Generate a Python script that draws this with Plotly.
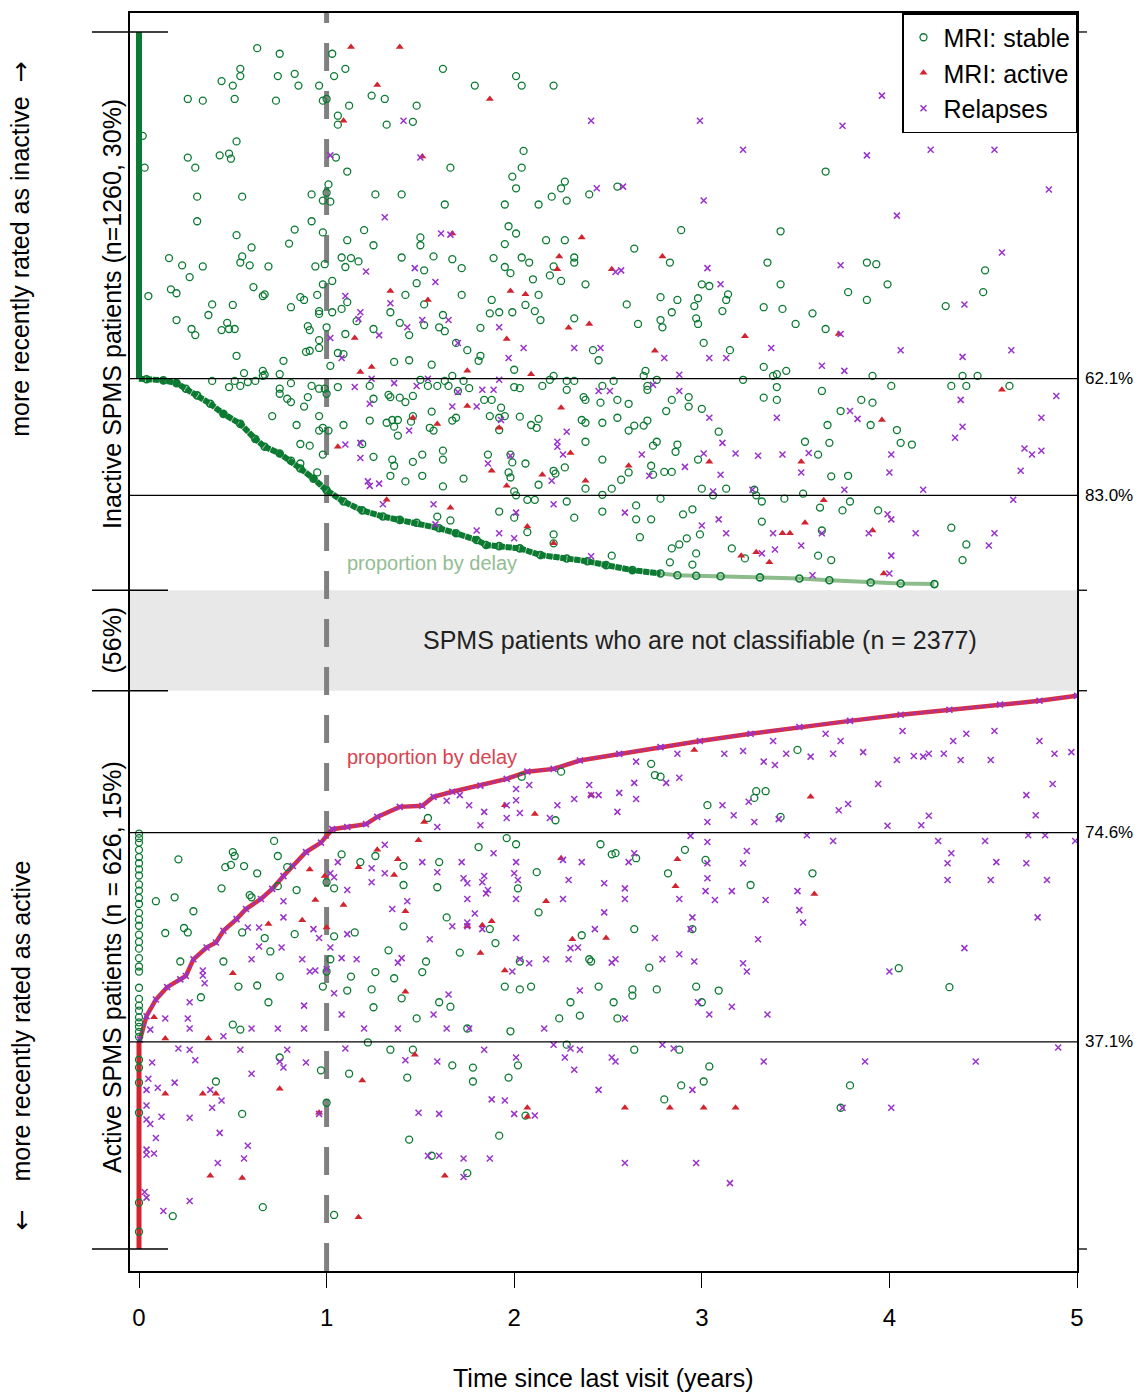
import plotly.graph_objects as go

# ------------------------------------------------------------------ data
# Each patient: (years since last visit, rank percentile within group)
# Inactive group: rank counted from the top of its block; active group: from the bottom.

inactive_curve = [
    (0, 0), (0, 62.1), (0.04, 62.2), (0.13, 62.4), (0.20, 62.9), (0.25, 63.9), (0.31, 65.1),
    (0.38, 66.6), (0.45, 68.4), (0.54, 70.2), (0.62, 72.9), (0.67, 74.3), (0.75, 75.5),
    (0.81, 76.8), (0.86, 78.2), (0.93, 80.0), (1.00, 82.1), (1.09, 84.1), (1.19, 85.7),
    (1.30, 86.8), (1.39, 87.4), (1.48, 87.9), (1.60, 88.9), (1.69, 89.8), (1.80, 91.0),
    (1.85, 91.9), (1.92, 92.1), (2.03, 92.5), (2.14, 93.7), (2.28, 94.3), (2.39, 94.8),
    (2.49, 95.5), (2.63, 96.4), (2.78, 97.0), (2.87, 97.3), (2.97, 97.4), (3.10, 97.5),
    (3.31, 97.7), (3.52, 97.9), (3.68, 98.2), (3.90, 98.6), (4.06, 98.8), (4.24, 98.9),
]

inactive_stable = [
    (0.63, 2.9), (0.75, 3.9), (0.54, 6.6), (0.54, 7.9), (0.44, 8.8), (0.50, 9.6), (0.74, 7.9),
    (0.83, 7.5), (0.85, 9.6), (0.96, 9.6), (1.03, 3.9), (1.04, 7.9), (1.10, 6.6), (0.26, 12.0),
    (0.34, 12.3), (0.51, 12.0), (0.73, 12.3), (0.98, 12.3), (1.00, 12.0), (1.12, 13.2),
    (1.06, 15.0), (1.06, 16.6), (1.24, 11.4), (0.02, 18.6), (0.03, 24.3), (0.52, 19.6),
    (0.43, 22.1), (0.48, 21.8), (0.49, 22.7), (0.26, 22.5), (0.30, 24.3), (1.05, 22.5),
    (1.11, 25.0), (0.31, 29.5), (0.55, 29.5), (0.92, 29.1), (0.98, 30.2), (1.02, 30.4),
    (1.01, 27.3), (1.00, 28.8), (1.26, 29.1), (0.31, 33.9), (0.92, 33.9), (0.52, 36.4),
    (0.83, 35.4), (0.80, 37.9), (0.60, 38.6), (0.55, 40.2), (0.54, 41.3), (0.59, 41.8),
    (0.98, 35.9), (1.11, 37.3), (1.20, 35.5), (1.25, 38.2), (0.16, 40.5), (0.23, 41.8),
    (0.34, 42.0), (0.69, 42.0), (0.94, 42.0), (0.99, 41.6), (1.08, 40.4), (1.13, 40.5),
    (1.17, 41.1), (1.10, 42.1), (0.27, 43.9), (0.05, 47.3), (0.17, 46.1), (0.20, 46.8),
    (0.61, 45.7), (0.66, 47.3), (0.67, 47.0), (0.39, 48.8), (0.50, 48.9), (0.37, 50.7),
    (0.20, 51.6), (0.28, 53.2), (0.30, 54.3), (0.44, 53.4), (0.47, 52.1), (0.48, 53.2),
    (0.51, 53.2), (0.81, 49.3), (0.86, 47.5), (0.88, 48.0), (0.95, 47.1), (0.98, 45.2),
    (1.03, 44.6), (0.96, 50.0), (0.96, 50.5), (1.03, 50.2), (1.08, 49.6), (1.11, 48.4),
    (0.90, 52.7), (0.91, 53.4), (1.00, 52.9), (1.10, 54.1), (1.16, 51.8), (1.25, 53.2),
    (0.52, 58.0), (0.89, 57.3), (0.91, 57.1), (0.96, 55.2), (0.96, 56.6), (0.77, 58.9),
    (1.02, 59.8), (1.06, 57.5), (1.09, 57.7), (0.56, 61.1), (0.66, 60.7), (0.66, 61.6),
    (0.67, 61.4), (0.75, 61.3), (0.39, 62.5), (0.48, 63.6), (0.51, 62.5), (0.54, 63.4),
    (0.58, 62.7), (0.62, 62.5), (0.81, 62.9), (0.75, 63.9), (0.75, 64.8), (0.79, 65.7),
    (0.81, 66.3), (0.88, 67.1), (0.90, 65.4), (0.92, 63.4), (0.96, 63.9), (1.00, 64.8),
    (0.99, 63.9), (1.06, 63.6), (1.25, 65.7), (1.23, 63.4), (0.71, 68.8), (0.96, 68.8),
    (0.84, 70.4), (0.91, 74.1), (0.98, 75.7), (0.86, 77.3), (0.95, 78.9), (0.86, 73.8),
    (1.62, 6.6), (2.01, 7.9), (2.04, 9.6), (2.21, 9.6), (1.79, 9.6), (1.31, 12.0), (1.48, 13.2),
    (1.32, 16.6), (1.46, 16.1), (2.05, 21.3), (1.66, 24.3), (2.04, 24.3), (1.99, 25.9),
    (2.01, 28.0), (2.27, 26.8), (2.25, 28.0), (2.20, 29.5), (2.28, 30.2), (2.40, 29.1),
    (2.55, 27.7), (1.95, 30.9), (2.13, 30.9), (1.63, 30.9), (1.40, 29.1), (1.50, 36.8),
    (1.50, 38.2), (1.97, 34.8), (2.01, 36.1), (1.95, 38.0), (2.17, 37.3), (2.27, 37.3),
    (2.89, 35.5), (2.64, 38.8), (1.40, 40.4), (1.57, 40.2), (1.67, 40.7), (1.72, 42.3),
    (1.52, 42.7), (1.48, 45.0), (1.89, 40.5), (1.95, 42.1), (1.98, 43.2), (2.04, 40.4),
    (2.08, 41.3), (2.21, 42.0), (2.19, 43.6), (2.25, 44.6), (2.32, 40.4), (2.32, 41.3),
    (2.38, 45.2), (2.83, 41.3), (2.10, 44.3), (1.72, 47.1), (1.42, 47.1), (1.52, 48.8),
    (1.34, 50.2), (1.62, 50.7), (1.88, 48.0), (1.92, 50.2), (1.87, 50.4), (1.99, 50.2),
    (2.06, 48.9), (2.13, 47.1), (2.11, 50.0), (2.14, 51.6), (2.32, 51.3), (2.60, 48.8),
    (2.78, 47.5), (2.78, 51.6), (2.87, 48.0), (2.84, 50.2), (2.96, 49.1), (2.98, 47.7),
    (2.97, 51.3), (2.66, 52.3), (2.79, 52.9), (1.39, 52.1), (1.52, 52.5), (1.44, 54.3),
    (1.60, 52.9), (1.63, 53.6), (1.82, 53.0), (1.36, 59.1), (1.44, 58.8), (1.56, 59.6),
    (1.69, 55.7), (1.75, 57.0), (1.82, 58.0), (1.81, 58.9), (2.00, 60.5), (2.42, 57.0),
    (2.45, 58.8), (2.70, 60.7), (2.69, 61.6), (1.33, 65.0), (1.34, 65.4), (1.39, 65.5),
    (1.42, 66.3), (1.46, 65.2), (1.50, 62.3), (1.54, 63.4), (1.59, 63.4), (1.63, 62.5),
    (1.65, 63.4), (1.67, 61.6), (1.70, 64.3), (1.73, 62.5), (1.76, 63.8), (1.84, 65.9),
    (1.88, 65.9), (1.93, 67.3), (2.00, 63.6), (2.03, 63.8), (2.15, 63.4), (2.19, 62.3),
    (2.21, 61.6), (2.28, 62.5), (2.28, 64.1), (2.32, 62.5), (2.37, 65.4), (2.38, 65.9),
    (2.46, 66.4), (2.47, 63.4), (2.53, 62.5), (2.55, 65.9), (2.61, 66.6), (2.71, 63.4),
    (2.71, 64.1), (2.76, 62.3), (2.84, 65.9), (2.93, 65.4), (2.93, 67.1), (2.81, 67.9),
    (0.96, 71.4), (0.98, 70.9), (1.01, 71.4), (1.09, 70.4), (1.23, 69.6), (1.32, 70.0),
    (1.35, 69.5), (1.38, 69.5), (1.36, 70.7), (1.38, 72.3), (1.46, 68.8), (1.45, 69.8),
    (1.56, 68.0), (1.55, 70.9), (1.57, 71.4), (1.67, 69.6), (1.69, 69.1), (1.87, 68.8),
    (1.92, 69.1), (1.95, 68.8), (1.92, 71.3), (2.03, 68.9), (2.09, 70.4), (2.12, 70.9),
    (2.13, 69.3), (2.36, 69.5), (2.38, 70.0), (2.47, 70.0), (2.55, 69.1), (2.61, 71.4),
    (2.64, 70.5), (2.69, 70.5), (2.71, 69.6), (2.74, 74.1), (2.76, 73.4), (2.87, 73.9),
    (2.86, 75.2), (2.98, 76.6), (2.38, 73.4), (1.19, 73.8), (1.25, 76.1), (1.35, 76.6),
    (1.36, 77.7), (1.34, 79.5), (1.46, 77.0), (1.51, 75.7), (1.51, 79.5), (1.62, 75.0),
    (1.62, 76.6), (1.42, 80.5), (1.62, 81.4), (1.73, 80.0), (1.86, 75.7), (1.98, 75.7),
    (1.99, 77.1), (2.06, 77.3), (1.97, 78.9), (1.98, 79.8), (2.00, 82.3), (2.01, 83.0),
    (2.07, 83.8), (2.11, 83.8), (2.13, 81.1), (2.21, 78.6), (2.22, 79.1), (2.27, 78.0),
    (2.28, 84.1), (2.38, 81.8), (2.47, 76.6), (2.47, 82.9), (2.52, 81.8), (2.61, 78.9),
    (2.57, 80.2), (2.73, 77.7), (2.74, 79.3), (2.80, 78.8), (2.84, 78.8), (2.78, 83.6),
    (2.65, 84.8), (2.65, 87.3), (2.73, 87.3), (2.47, 85.9), (2.32, 87.0), (2.21, 90.0),
    (2.21, 91.6), (2.07, 89.6), (1.92, 85.9), (2.00, 87.0), (1.66, 87.5), (1.59, 86.8),
    (2.67, 90.5), (2.83, 95.0), (2.84, 92.5), (2.88, 91.8), (2.92, 90.7), (2.97, 93.4),
    (2.90, 86.4), (2.95, 85.5), (2.52, 93.8),
    (3.66, 25.0), (3.42, 35.7), (3.35, 41.3), (3.88, 41.3), (3.93, 41.6), (4.51, 42.7),
    (3.00, 45.2), (3.04, 45.5), (3.42, 45.2), (3.99, 45.2), (3.78, 46.6), (3.88, 48.0),
    (4.50, 46.6), (4.30, 49.1), (3.14, 47.0), (3.13, 48.0), (3.11, 50.0), (3.33, 49.3),
    (3.43, 49.6), (3.59, 50.4), (2.98, 52.3), (3.50, 52.3), (3.66, 53.2), (3.01, 55.7),
    (3.15, 57.0), (3.33, 60.0), (3.45, 60.7), (3.38, 61.6), (3.40, 61.3), (3.22, 62.3),
    (3.91, 61.6), (4.39, 61.6), (4.47, 61.6), (3.40, 63.6), (4.01, 63.4), (4.33, 63.4),
    (4.41, 63.4), (4.64, 63.4), (3.64, 64.3), (3.00, 67.5), (3.33, 65.5), (3.40, 65.9),
    (3.85, 65.9), (3.91, 66.4), (3.74, 67.9), (3.67, 70.4), (3.90, 70.4), (4.04, 71.3),
    (3.09, 71.6), (3.55, 73.4), (3.68, 73.6), (4.06, 73.6), (4.12, 73.9), (3.62, 75.7),
    (3.69, 79.6), (3.78, 79.5), (3.00, 81.8), (3.13, 81.8), (3.06, 83.0), (3.28, 82.0),
    (3.29, 83.0), (3.32, 84.1), (3.44, 83.6), (3.54, 82.7), (3.32, 87.7), (3.63, 85.2),
    (3.75, 85.7), (3.79, 84.1), (3.94, 85.7), (2.99, 90.0), (3.64, 89.3), (3.16, 92.5),
    (3.23, 94.3), (3.62, 93.8), (3.69, 94.6), (2.95, 95.4), (4.33, 88.8), (4.41, 91.8),
    (4.39, 94.6),
]

inactive_mri_active = [
    (1.13, 2.7), (1.27, 9.5), (1.09, 15.9), (1.15, 54.8), (1.18, 60.9), (1.24, 60.0),
    (1.39, 2.7), (1.87, 12.0), (1.51, 22.3), (1.67, 36.1), (2.36, 36.8), (2.24, 40.2),
    (2.23, 42.5), (2.79, 40.2), (2.52, 42.5), (1.34, 46.4), (1.54, 48.0), (1.98, 46.4),
    (2.06, 47.0), (2.40, 52.3), (2.29, 53.0), (1.75, 60.7), (1.96, 55.0), (2.09, 61.3),
    (2.75, 57.1), (1.75, 67.0), (1.46, 69.1), (1.59, 70.2), (1.92, 70.9), (2.25, 67.3),
    (2.30, 75.4), (1.06, 74.3), (1.88, 78.6), (2.15, 79.3), (1.96, 81.3), (2.38, 80.4),
    (2.61, 77.7), (1.32, 83.8), (1.66, 85.2), (2.07, 88.6), (2.21, 91.6), (3.23, 54.5),
    (3.73, 54.1), (4.60, 64.1), (3.96, 69.5), (3.04, 77.0), (3.53, 77.0), (3.65, 83.9),
    (3.55, 87.9), (3.43, 89.8), (3.47, 89.8), (3.91, 89.3), (3.21, 93.8), (3.29, 93.2),
    (3.36, 95.0), (3.97, 97.0),
]

inactive_relapse = [
    (1.02, 22.1), (1.21, 42.9), (1.10, 47.3), (1.18, 50.2), (1.17, 51.4), (1.02, 54.8),
    (1.08, 58.4), (1.15, 63.6), (1.24, 62.1), (1.23, 66.6), (1.28, 54.3), (1.41, 15.9),
    (2.41, 15.9), (2.99, 15.9), (1.50, 22.5), (2.44, 28.0), (2.58, 27.7), (1.31, 33.2),
    (1.61, 36.1), (1.66, 36.3), (1.47, 42.3), (1.58, 44.8), (2.54, 43.0), (2.57, 42.7),
    (1.51, 51.6), (1.65, 51.6), (1.92, 52.9), (1.43, 52.9), (1.34, 48.6), (1.36, 62.9),
    (1.48, 63.4), (1.54, 62.1), (1.70, 55.7), (1.97, 58.4), (2.05, 56.6), (2.32, 56.6),
    (2.46, 56.6), (2.80, 58.4), (2.88, 61.4), (2.88, 64.3), (1.83, 64.1), (1.89, 64.1),
    (1.92, 62.3), (1.70, 64.5), (1.67, 67.1), (1.80, 67.1), (2.45, 64.3), (2.51, 64.3),
    (2.74, 63.2), (1.44, 71.4), (1.10, 73.9), (1.18, 73.6), (1.18, 76.3), (1.93, 69.5),
    (2.28, 71.6), (2.23, 73.4), (2.23, 74.3), (2.26, 75.7), (1.98, 75.9), (1.86, 77.3),
    (2.68, 75.7), (2.91, 77.9), (2.72, 79.5), (2.20, 80.4), (1.22, 80.5), (1.23, 81.3),
    (1.28, 80.9), (1.30, 84.6), (1.57, 84.6), (1.58, 88.2), (1.80, 89.3), (1.92, 89.8),
    (2.00, 90.7), (2.01, 86.1), (2.21, 84.6), (2.59, 86.1), (2.41, 93.9),
    (3.22, 21.1), (3.88, 22.1), (4.22, 21.1), (4.56, 21.1), (4.85, 28.2), (3.01, 30.2),
    (4.04, 32.9), (4.60, 39.5), (3.03, 42.3), (3.74, 41.8), (3.10, 45.2), (4.40, 48.8),
    (3.74, 54.1), (3.37, 56.6), (4.06, 57.0), (4.65, 57.0), (3.04, 58.4), (3.13, 58.4),
    (4.39, 58.2), (3.64, 59.8), (3.76, 60.7), (4.89, 65.2), (4.38, 65.9), (3.04, 69.1),
    (3.40, 69.1), (3.79, 67.9), (3.83, 69.3), (4.81, 69.1), (4.39, 70.7), (4.35, 72.7),
    (3.11, 73.6), (3.01, 75.5), (3.18, 75.5), (3.30, 75.9), (3.43, 75.7), (3.57, 75.4),
    (4.01, 75.7), (4.72, 74.6), (4.76, 75.7), (4.81, 75.0), (3.10, 79.3), (3.53, 78.9),
    (4.00, 78.9), (4.70, 78.6), (3.06, 82.3), (3.27, 82.0), (3.76, 82.0), (4.18, 82.0),
    (4.66, 83.8), (3.09, 87.3), (3.00, 88.4), (3.99, 86.4), (4.01, 87.3), (3.13, 89.8),
    (3.38, 89.8), (3.64, 89.8), (3.89, 89.8), (4.14, 89.8), (4.56, 89.8), (4.53, 92.0),
    (3.53, 92.0), (3.32, 93.4), (3.39, 92.7), (4.01, 93.8), (3.59, 97.3), (4.00, 97.0),
    (3.75, 16.8), (3.96, 11.4),
]

active_curve = [
    (0, 0), (0, 37.1), (0.005, 37.5), (0.04, 41.7), (0.09, 44.7), (0.15, 46.9), (0.22, 48.3),
    (0.25, 48.9), (0.29, 51.9), (0.36, 54.0), (0.41, 54.9), (0.45, 57.0), (0.52, 59.1),
    (0.57, 60.9), (0.65, 62.7), (0.71, 64.5), (0.77, 66.8), (0.82, 68.6), (0.89, 71.1),
    (0.97, 72.8), (1.03, 75.2), (1.11, 75.6), (1.21, 76.1), (1.27, 77.4), (1.39, 79.2),
    (1.51, 79.4), (1.57, 81.0), (1.67, 81.9), (1.82, 83.0), (1.96, 84.2), (2.07, 85.5),
    (2.21, 86.0), (2.35, 87.5), (2.56, 88.7), (2.78, 89.9), (2.99, 91.0), (3.26, 92.3),
    (3.52, 93.5), (3.79, 94.6), (4.06, 95.7), (4.32, 96.6), (4.59, 97.5), (4.80, 98.2),
    (5.00, 99.1),
]

active_stable = [
    (0, 74.4), (0, 73.6), (0, 72.8), (0, 71.5), (0, 70.2), (0, 69.1), (0, 68.0), (0, 66.9),
    (0, 65.3), (0, 64.2), (0, 62.9), (0, 61.8), (0, 60.2), (0, 59.0), (0, 57.9), (0, 56.3),
    (0, 55.0), (0, 53.8), (0, 52.1), (0, 50.6), (0, 49.7), (0, 46.8), (0, 44.8), (0, 43.6),
    (0, 42.7), (0, 41.5), (0, 40.6), (0, 39.8), (0, 38.9), (0, 38.0), (0, 33.9), (0, 32.5),
    (0, 29.8), (0, 24.4), (0, 8.3), (0, 3.1),
    (0.72, 73.1), (0.21, 69.8), (0.50, 71.1), (0.51, 70.4), (0.46, 68.4), (0.49, 68.8),
    (0.56, 68.6), (0.63, 67.3), (0.74, 70.4), (0.44, 64.6), (0.09, 62.3), (0.19, 63.0),
    (0.29, 60.5), (0.59, 63.4), (0.60, 63.0), (0.84, 64.3), (0.79, 68.4), (0.74, 65.0),
    (0.14, 56.6), (0.24, 57.5), (0.26, 56.7), (0.55, 56.7), (0.83, 56.4), (0.22, 51.5),
    (0.45, 51.5), (0.70, 53.3), (0.67, 55.7), (0.75, 48.8), (0.53, 47.0), (0.63, 47.2),
    (0.33, 45.1), (0.69, 44.2), (0.50, 40.2), (0.54, 39.3), (1.08, 70.7), (1.26, 70.4),
    (1.18, 69.3), (1.41, 68.6), (1.41, 65.2), (1.04, 64.6), (1.00, 65.7), (1.41, 57.8),
    (1.04, 56.0), (1.15, 56.7), (1.02, 51.9), (1.00, 49.7), (1.13, 48.8), (0.98, 47.0),
    (1.11, 46.3), (1.24, 46.5), (1.33, 53.5), (1.36, 48.5), (1.40, 44.9), (1.53, 51.5),
    (1.48, 41.3), (1.26, 49.6), (1.25, 43.3), (1.51, 49.6), (1.22, 37.0), (1.34, 35.7),
    (1.46, 35.7), (0.75, 34.3), (0.97, 32.0), (0.41, 30.0), (1.12, 31.4), (1.43, 30.7),
    (1.00, 26.2), (0.55, 24.2), (1.44, 19.6), (0.66, 7.5), (1.04, 6.1), (0.18, 5.9),
    (3.51, 89.4), (2.73, 86.9), (2.75, 84.9), (2.78, 84.6), (2.25, 85.5), (2.04, 84.6),
    (3.29, 82.0), (3.34, 82.0), (3.28, 80.8), (3.03, 79.5), (3.42, 77.4), (2.22, 76.8),
    (1.54, 77.2), (1.96, 73.6), (2.01, 72.5), (1.81, 72.0), (2.46, 72.5), (2.54, 70.9),
    (2.52, 70.7), (2.65, 70.0), (2.91, 71.5), (3.02, 69.7), (1.60, 69.3), (2.12, 67.5),
    (2.82, 67.3), (3.59, 67.3), (3.26, 65.2), (1.59, 64.8), (2.02, 64.6), (2.13, 60.3),
    (1.64, 59.4), (1.87, 57.3), (2.64, 57.3), (2.95, 57.3), (2.36, 56.2), (1.90, 54.8),
    (1.71, 53.1), (2.03, 51.5), (2.40, 51.9), (2.41, 51.5), (2.72, 50.4), (4.05, 50.3),
    (4.32, 46.9), (1.95, 47.0), (2.03, 46.5), (2.09, 47.0), (2.45, 47.0), (2.63, 46.5),
    (2.63, 45.4), (2.76, 46.5), (2.97, 47.0), (3.09, 46.3), (1.60, 44.2), (1.66, 43.4),
    (2.30, 44.2), (2.53, 44.2), (3.00, 44.2), (2.24, 41.3), (2.35, 41.8), (2.55, 41.3),
    (1.75, 39.5), (1.98, 39.0), (2.28, 36.6), (2.64, 35.7), (2.88, 35.7), (1.67, 32.9),
    (1.78, 32.5), (2.02, 32.9), (1.97, 30.7), (1.78, 30.0), (3.04, 32.7), (3.01, 30.0),
    (2.89, 29.3), (3.79, 29.3), (2.80, 26.8), (3.74, 25.3), (2.06, 23.9), (1.92, 20.3),
    (1.56, 16.7), (1.75, 13.6),
]

active_mri_active = [
    (1.49, 73.2), (1.27, 71.5), (1.38, 69.8), (1.36, 67.0), (1.17, 68.4), (0.91, 68.0),
    (0.99, 66.8), (0.94, 62.5), (1.09, 61.6), (1.42, 60.5), (0.87, 58.9), (0.69, 58.2),
    (1.00, 57.6), (0.50, 49.4), (1.42, 46.1), (0.08, 41.5), (0.14, 37.7), (0.37, 37.7),
    (1.47, 34.8), (1.19, 30.2), (0.14, 27.8), (0.34, 27.8), (0.41, 27.8), (0.75, 28.7),
    (0.96, 24.4), (0.38, 13.1), (0.55, 12.7), (1.17, 5.7),
    (2.96, 89.4), (1.95, 79.5), (2.11, 77.9), (2.41, 81.3), (3.58, 81.0), (1.52, 76.5),
    (2.25, 70.0), (2.87, 69.8), (2.86, 65.0), (3.60, 63.6), (2.17, 62.3), (1.75, 57.8),
    (1.83, 58.0), (1.88, 58.7), (2.31, 55.5), (2.49, 55.7), (1.82, 53.0), (1.95, 49.9),
    (2.07, 25.3), (2.59, 25.3), (2.83, 25.3), (3.01, 25.3), (3.18, 25.3), (2.07, 23.7),
    (1.63, 13.1),
]

active_relapse = [
    (1.31, 72.4), (1.06, 69.3), (1.02, 67.3), (1.04, 66.6), (1.24, 68.2), (1.24, 65.7),
    (1.31, 67.3), (1.51, 69.3), (1.11, 64.3), (0.77, 62.3), (0.77, 59.4), (0.58, 57.6),
    (0.64, 57.6), (0.93, 57.3), (0.96, 55.7), (1.11, 56.4), (0.64, 54.2), (0.76, 54.0),
    (1.02, 54.0), (0.60, 51.9), (0.87, 51.9), (0.91, 49.7), (0.94, 49.9), (1.00, 50.1),
    (1.08, 52.1), (1.16, 51.9), (1.38, 51.3), (1.40, 52.1), (1.35, 60.9), (1.43, 62.3),
    (0.34, 49.9), (0.34, 49.0), (0.35, 47.6), (0.27, 44.2), (1.04, 45.8), (0.88, 43.6),
    (1.08, 42.0), (0.14, 41.3), (0.26, 41.3), (0.06, 39.3), (0.27, 39.5), (0.45, 38.1),
    (0.60, 39.5), (0.74, 39.5), (0.88, 39.5), (1.20, 39.5), (1.38, 39.5), (0.21, 35.9),
    (0.27, 35.7), (0.54, 35.7), (0.79, 35.7), (1.10, 35.9), (0.07, 33.4), (0.30, 33.8),
    (0.60, 31.4), (0.75, 33.6), (0.77, 32.5), (0.89, 33.4), (1.42, 33.8), (0.05, 30.5),
    (0.10, 28.9), (0.19, 29.8), (0.04, 28.5), (0.38, 28.5), (0.44, 26.6), (0.04, 25.7),
    (0.39, 25.3), (0.12, 23.7), (0.27, 23.5), (0.04, 23.2), (0.06, 22.4), (0.09, 19.9),
    (0.43, 20.8), (0.58, 18.5), (0.56, 16.2), (0.04, 17.8), (0.04, 16.9), (0.08, 17.1),
    (0.42, 15.4), (1.49, 24.4), (1.54, 16.7), (0.04, 9.2), (0.03, 10.2), (0.13, 6.8),
    (0.27, 8.6), (0.96, 24.2),
    (3.66, 92.3), (3.74, 91.0), (4.07, 92.8), (4.34, 91.0), (4.41, 92.3), (4.56, 92.8),
    (4.80, 91.0), (3.38, 91.0), (2.87, 88.7), (3.12, 88.7), (3.22, 89.2), (3.45, 88.7),
    (3.58, 88.2), (3.70, 88.7), (3.86, 89.0), (4.04, 87.6), (4.13, 88.3), (4.18, 88.2),
    (4.21, 88.7), (4.29, 88.7), (4.38, 87.6), (4.54, 87.6), (4.88, 88.7), (4.97, 89.0),
    (3.33, 87.3), (3.39, 86.7), (2.65, 87.3), (2.88, 84.4), (2.81, 83.5), (2.64, 83.5),
    (2.40, 83.1), (2.08, 83.1), (2.01, 82.4), (2.56, 81.7), (2.45, 81.3), (2.41, 81.3),
    (2.32, 80.6), (2.65, 80.6), (2.01, 80.4), (1.96, 79.5), (1.76, 79.5), (1.64, 80.3),
    (1.71, 81.3), (2.23, 79.5), (1.84, 78.3), (2.03, 78.1), (1.96, 77.2), (2.19, 77.2),
    (2.55, 78.3), (1.82, 75.9), (1.59, 75.6), (3.11, 79.5), (3.25, 80.1), (3.17, 77.7),
    (3.03, 76.5), (3.28, 76.5), (3.41, 77.0), (3.73, 78.6), (3.78, 79.7), (3.94, 83.3),
    (3.99, 75.8), (4.17, 75.9), (4.21, 77.6), (4.73, 81.3), (4.87, 83.3), (4.78, 77.7),
    (2.94, 74.0), (3.56, 74.1), (3.70, 73.1), (4.26, 73.1), (4.51, 73.1), (4.74, 74.1),
    (4.83, 74.1), (4.99, 73.1), (3.03, 72.9), (3.24, 71.3), (3.22, 69.1), (3.03, 69.1),
    (3.03, 66.4), (4.33, 70.9), (4.31, 69.1), (4.57, 69.3), (4.73, 69.1), (4.31, 66.1),
    (4.54, 66.1), (4.84, 66.1), (3.51, 64.1), (3.52, 60.7), (3.54, 58.5), (3.02, 64.1),
    (3.16, 64.1), (3.07, 62.5), (3.34, 62.5), (2.88, 62.7), (2.95, 59.4), (2.94, 57.3),
    (2.75, 55.7), (3.30, 55.5), (4.79, 59.4), (4.40, 53.9), (2.88, 52.8), (2.96, 51.5),
    (2.79, 51.9), (3.22, 51.2), (3.24, 49.7), (4.00, 49.7), (2.59, 62.7), (2.59, 64.6),
    (2.48, 65.5), (2.29, 66.1), (2.26, 62.7), (2.48, 60.3), (2.43, 57.3), (2.30, 53.9),
    (2.34, 54.0), (2.17, 51.9), (2.29, 51.9), (2.54, 51.9), (2.52, 51.3), (2.08, 51.2),
    (1.99, 49.7), (2.03, 51.9), (2.01, 55.7), (1.83, 65.7), (1.84, 66.8), (1.73, 66.4),
    (1.75, 65.5), (1.86, 64.3), (1.85, 63.7), (1.75, 62.7), (1.79, 60.1), (1.75, 58.5),
    (1.75, 57.8), (1.83, 57.3), (1.67, 57.8), (1.55, 55.5), (2.01, 62.7), (2.02, 66.1),
    (2.00, 67.3), (2.01, 69.3), (1.89, 70.9), (1.72, 69.3), (1.59, 67.5), (2.26, 69.7),
    (2.36, 69.3), (2.64, 70.9), (2.61, 69.3), (2.35, 46.3), (1.65, 45.6), (1.57, 42.0),
    (1.64, 39.5), (1.76, 39.5), (2.16, 39.5), (2.59, 41.3), (2.98, 44.2), (3.04, 42.0),
    (3.16, 43.4), (3.35, 42.0), (2.21, 36.6), (2.30, 35.9), (2.35, 35.7), (1.84, 35.7),
    (2.79, 36.6), (2.85, 35.9), (2.01, 34.3), (2.27, 34.3), (2.52, 34.3), (2.54, 33.6),
    (1.59, 33.6), (3.33, 33.6), (3.87, 33.6), (4.46, 33.6), (4.90, 36.1), (2.32, 32.1),
    (2.45, 28.5), (2.95, 28.5), (1.88, 26.8), (1.95, 26.6), (1.60, 24.2), (2.00, 24.2),
    (2.11, 23.9), (3.75, 25.3), (4.01, 25.3), (1.60, 16.7), (1.73, 16.2), (1.87, 16.2),
    (2.59, 15.4), (2.97, 15.4), (3.15, 11.8), (1.73, 12.9),
]

inactive_ref_pcts = [62.1, 83.0]
active_ref_pcts = [74.6, 37.1]
group_labels = {
    "inactive": "Inactive SPMS patients (n=1260, 30%)",
    "unclass": "(56%)",
    "active": "Active SPMS patients (n = 626, 15%)",
}
band_label = "SPMS patients who are not classifiable (n = 2377)"
legend_names = ["MRI: stable", "MRI: active", "Relapses"]
x_ticks = [0, 1, 2, 3, 4, 5]
x_title = "Time since last visit (years)"
reference_delay = 1

# ------------------------------------------------------------------ layout helpers
BLOCK = 100.0          # height of one group block in rank units
GAP = 18.0             # height of the not-classifiable band
TOP = 2 * BLOCK + GAP  # top of inactive block


def y_inactive(p):
    return TOP - p


def y_active(p):
    return p


GREEN = "#0b7a32"
RED = "#d2232f"
PURPLE = "#9932cc"
FONT = "Liberation Sans, Arial, sans-serif"
ARROWFONT = "DejaVu Sans"

Y_RANGE = [-3.94, 221.4]
X_RANGE = [-0.048, 5.0]

fig = go.Figure()

# dashed reference line at 1 year (drawn first so markers sit on top)
fig.add_trace(go.Scatter(
    x=[reference_delay, reference_delay], y=Y_RANGE, mode="lines",
    line=dict(color="#808080", width=5, dash="28px,20px"),
    showlegend=False, hoverinfo="skip", cliponaxis=True))


def xy(pts, fy):
    return [p[0] for p in pts], [fy(p[1]) for p in pts]


# ---- inactive curve
cx, cy = xy(inactive_curve, y_inactive)
zero_x = [x for x in cx if x == 0]
zero_y = [y for x, y in zip(cx, cy) if x == 0]
fig.add_trace(go.Scatter(x=zero_x, y=zero_y, mode="lines",
                         line=dict(color=GREEN, width=6), showlegend=False, hoverinfo="skip"))
fig.add_trace(go.Scatter(x=cx[1:], y=cy[1:], mode="lines",
                         line=dict(color="rgba(120,175,120,0.85)", width=4),
                         showlegend=False, hoverinfo="skip"))
dense = [(x, y) for x, y in zip(cx[1:], cy[1:]) if x <= 2.8]
fig.add_trace(go.Scatter(x=[d[0] for d in dense], y=[d[1] for d in dense], mode="lines",
                         line=dict(color=GREEN, width=6, dash="6px,1px"),
                         showlegend=False, hoverinfo="skip"))
fig.add_trace(go.Scatter(x=cx[2:], y=cy[2:], mode="markers",
                         marker=dict(symbol="circle-open", size=7, color=GREEN,
                                     line=dict(width=1.6, color=GREEN)),
                         showlegend=False, hoverinfo="skip"))

# ---- active curve
ax_, ay_ = xy(active_curve, y_active)
zx = [x for x in ax_ if x == 0]
zy = [y for x, y in zip(ax_, ay_) if x == 0]
fig.add_trace(go.Scatter(x=zx, y=zy, mode="lines",
                         line=dict(color=RED, width=5), showlegend=False, hoverinfo="skip"))
fig.add_trace(go.Scatter(x=ax_[1:], y=ay_[1:], mode="lines",
                         line=dict(color="#d8303f", width=4.5),
                         showlegend=False, hoverinfo="skip"))
fig.add_trace(go.Scatter(x=ax_[2:], y=ay_[2:], mode="lines",
                         line=dict(color=PURPLE, width=2.5, dash="3px,4px"),
                         showlegend=False, hoverinfo="skip"))
fig.add_trace(go.Scatter(x=ax_[2:], y=ay_[2:], mode="markers",
                         marker=dict(symbol="x-thin-open", size=6, color=PURPLE,
                                     line=dict(width=1.6, color=PURPLE)),
                         showlegend=False, hoverinfo="skip"))

# ---- scatter markers
styles = {
    "stable": dict(symbol="circle-open", size=7, color=GREEN, line=dict(width=1.3, color=GREEN)),
    "active": dict(symbol="triangle-up", size=7, color=RED, line=dict(width=0)),
    "relapse": dict(symbol="x-thin-open", size=6, color=PURPLE, line=dict(width=1.5, color=PURPLE)),
}

series = [
    (inactive_stable, y_inactive, "stable", legend_names[0], True, 1),
    (inactive_mri_active, y_inactive, "active", legend_names[1], True, 2),
    (inactive_relapse, y_inactive, "relapse", legend_names[2], True, 3),
    (active_stable, y_active, "stable", legend_names[0], False, 1),
    (active_mri_active, y_active, "active", legend_names[1], False, 2),
    (active_relapse, y_active, "relapse", legend_names[2], False, 3),
]
for pts, fy, kind, name, show, rank in series:
    x, y = xy(pts, fy)
    fig.add_trace(go.Scatter(x=x, y=y, mode="markers", name=name, marker=styles[kind],
                             showlegend=show, legendrank=rank, hoverinfo="skip"))

# ------------------------------------------------------------------ shapes
shapes = []
shapes.append(dict(type="rect", xref="paper", yref="y", x0=0, x1=1, y0=BLOCK, y1=BLOCK + GAP,
                   fillcolor="#e8e8e8", line=dict(width=0), layer="below"))
for p in inactive_ref_pcts:
    shapes.append(dict(type="line", xref="paper", yref="y", x0=0, x1=1,
                       y0=y_inactive(p), y1=y_inactive(p), line=dict(color="black", width=1.3)))
for p in active_ref_pcts:
    shapes.append(dict(type="line", xref="paper", yref="y", x0=0, x1=1,
                       y0=y_active(p), y1=y_active(p), line=dict(color="black", width=1.3)))
for yb in [0, BLOCK, BLOCK + GAP, TOP]:
    shapes.append(dict(type="line", xref="paper", yref="y", x0=-0.0401, x1=0.0401,
                       y0=yb, y1=yb, line=dict(color="black", width=1.3)))
    shapes.append(dict(type="line", xref="paper", yref="y", x0=1, x1=1.0106,
                       y0=yb, y1=yb, line=dict(color="black", width=1.3)))

# ------------------------------------------------------------------ annotations
BIG = 25
ann = []
ann.append(dict(x=2.99, y=BLOCK + GAP / 2, xref="x", yref="y", text=band_label, showarrow=False,
                xanchor="center", yanchor="middle",
                font=dict(size=BIG, color="#222", family=FONT)))
ann.append(dict(x=1.56, y=y_inactive(95.2), xref="x", yref="y", text="proportion by delay",
                xanchor="center", yanchor="middle",
                showarrow=False, font=dict(size=20, color="#93bd93", family=FONT)))
ann.append(dict(x=1.56, y=y_active(88.2), xref="x", yref="y", text="proportion by delay",
                xanchor="center", yanchor="middle",
                showarrow=False, font=dict(size=20, color="#d9434f", family=FONT)))
for p in inactive_ref_pcts:
    ann.append(dict(x=1.006, y=y_inactive(p), xref="paper", yref="y", xanchor="left",
                    yanchor="middle", text=f"{p:.1f}%", showarrow=False,
                    font=dict(size=17, color="black", family=FONT)))
for p in active_ref_pcts:
    ann.append(dict(x=1.006, y=y_active(p), xref="paper", yref="y", xanchor="left",
                    yanchor="middle", text=f"{p:.1f}%", showarrow=False,
                    font=dict(size=17, color="black", family=FONT)))
for key, yc in [("inactive", 167.5), ("unclass", BLOCK + GAP / 2), ("active", 50.5)]:
    ann.append(dict(x=-0.019, y=yc, xref="paper", yref="y", text=group_labels[key],
                    xanchor="center", yanchor="middle",
                    textangle=-90, showarrow=False, font=dict(size=BIG, color="black", family=FONT)))
ann.append(dict(x=-0.1151, y=179, xref="paper", yref="y",
                text="more recently rated as inactive \u00a0<span style='font-family:%s'>\u2192</span>" % ARROWFONT,
                xanchor="center", yanchor="middle",
                textangle=-90, showarrow=False, font=dict(size=BIG, color="black", family=FONT)))
ann.append(dict(x=-0.1151, y=36.5, xref="paper", yref="y",
                text="<span style='font-family:%s'>\u2190</span>\u00a0\u00a0\u00a0 more recently rated as active" % ARROWFONT,
                xanchor="center", yanchor="middle",
                textangle=-90, showarrow=False, font=dict(size=BIG, color="black", family=FONT)))
ann.append(dict(x=0.5, y=-0.085, xref="paper", yref="paper", text=x_title, showarrow=False,
                xanchor="center", yanchor="middle",
                font=dict(size=BIG, color="black", family=FONT)))

fig.update_layout(
    width=1138, height=1392,
    margin=dict(l=130, r=61, t=13, b=121),
    paper_bgcolor="white", plot_bgcolor="white",
    font=dict(family=FONT, color="black"),
    shapes=shapes, annotations=ann,
    showlegend=True,
    legend=dict(x=1, y=1, xanchor="right", yanchor="top", bgcolor="white",
                bordercolor="black", borderwidth=1.5, font=dict(size=BIG, family=FONT),
                tracegroupgap=0, itemwidth=30),
    xaxis=dict(range=X_RANGE, tickvals=x_ticks, ticks="outside", ticklen=15, tickwidth=1.3,
               tickcolor="black", showline=True, mirror=True, linecolor="black", linewidth=1.5,
               showgrid=False, zeroline=False, tickfont=dict(size=24, family=FONT),
               ticklabelstandoff=9),
    yaxis=dict(range=Y_RANGE, showticklabels=False, ticks="", showline=True, mirror=True,
               linecolor="black", linewidth=1.5, showgrid=False, zeroline=False),
)

# remove the browser's default page margin so the figure fills the window exactly
fig.write_html("out.html",
               config={"displayModeBar": False},
               post_script="document.body.style.margin='0px';document.body.style.padding='0px';")
